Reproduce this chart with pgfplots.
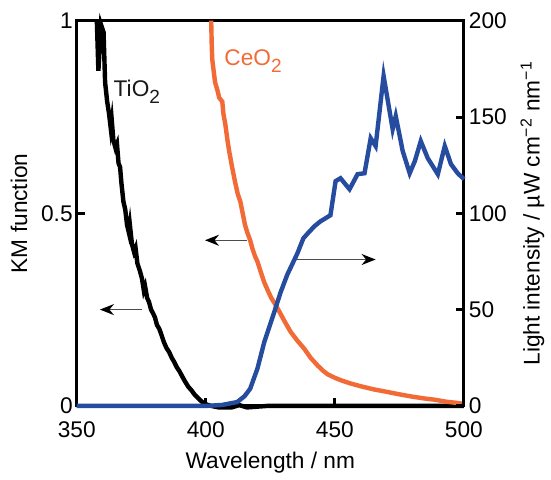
\documentclass[border=0pt]{standalone}
\usepackage{fontspec}
\setmainfont{Liberation Sans}
\usepackage{pgfplots}
\pgfplotsset{compat=1.18}
\usetikzlibrary{arrows.meta}
\definecolor{ceo}{RGB}{242,106,53}
\definecolor{lamp}{RGB}{38,76,160}
\newcommand{\fs}{\fontsize{11.3}{13}\selectfont}
\pgfplotsset{
  common/.style={
    scale only axis, width=193pt, height=192pt,
    xmin=350, xmax=500,
    tick align=inside, major tick length=4pt,
    axis line style={line width=1.5pt},
    every tick/.style={line width=1.5pt, black},
    tick label style={font=\fs},
    label style={font=\fs},
    /pgf/number format/assume math mode=true,
    clip=false,
  },
}
\newcommand{\sub}[1]{\raisebox{-0.55ex}{\fontsize{9.5}{10}\selectfont #1}}
\begin{document}
\begin{tikzpicture}
\begin{axis}[common,
  ymin=0, ymax=1, ytick={0,0.5,1},
  xtick={350,400,450,500}, xtick pos=bottom, ytick pos=left,
  xticklabel style={yshift=-4.5pt},
  yticklabel style={xshift=1.5pt},
  xlabel={Wavelength / nm}, ylabel={KM function},
  xlabel shift=0pt,
]
% TiO2
\addplot[black, line width=2.2pt] coordinates {
(357.8,1.0) (358.4,0.87) (359.4,0.99) (360.4,0.97) (361.0,0.84) (361.8,0.79)
(362.5,0.76) (363.2,0.72) (363.6,0.74) (364.2,0.69)
(365.0,0.67) (365.6,0.68) (366.2,0.63) (366.8,0.62) (367.3,0.58) (368.1,0.53)
(368.8,0.51) (369.5,0.47) (370.2,0.45) (370.6,0.47) (371.4,0.42) (372.2,0.40)
(372.8,0.41) (373.5,0.37) (374.5,0.35) (375.3,0.33) (376.0,0.30) (376.5,0.31)
(377.3,0.28) (378.0,0.27) (378.8,0.25) (379.6,0.24) (380.3,0.23) (381.1,0.21)
(382.0,0.20) (382.8,0.185) (383.8,0.165) (384.8,0.15) (385.8,0.14) (386.8,0.125)
(387.7,0.115) (388.8,0.10) (389.8,0.09) (391.0,0.075) (392.0,0.063) (393.2,0.05)
(394.5,0.04) (395.6,0.03) (396.6,0.023) (397.8,0.015) (399.0,0.008) (400.5,0.003)
(402,0) (405,-0.004) (410,-0.004) (413,0.002) (416,-0.004) (420,-0.002) (424,0.0)
(430,0) (440,0) (450,0) (460,0) (470,0) (480,0) (490,0) (500,0)
};
% CeO2
\addplot[ceo, line width=2.2pt] coordinates {
(402.1,1.0) (402.3,0.94) (402.5,0.90) (403.6,0.84) (404.5,0.82) (405.2,0.80)
(406.4,0.79) (406.8,0.76) (407.6,0.73) (408.4,0.69) (409.1,0.66) (410.2,0.62)
(411.4,0.58) (412.4,0.55) (413.4,0.53) (414.3,0.50) (415.2,0.47) (416.1,0.45)
(417.2,0.43) (418.0,0.41) (419.0,0.39) (420.0,0.375) (421.2,0.35) (422.7,0.32)
(424.0,0.30) (425.4,0.28) (426.8,0.265) (428.5,0.245) (430.5,0.22) (432.8,0.193)
(435.4,0.17) (438.2,0.148) (440.6,0.125) (443.3,0.105) (445.3,0.092) (447.2,0.082)
(450.0,0.073) (453.0,0.065) (456.2,0.058) (460.0,0.051) (465.0,0.043) (470.5,0.036)
(475.0,0.030) (480.0,0.024) (485.0,0.019) (488.7,0.016) (493.0,0.011) (497.0,0.008) (500,0.005)
};
\draw[black!70, line width=0.65pt, -{Stealth[length=7pt,width=5.5pt,black]}]
  (axis cs:375.3,0.25) -- (axis cs:359,0.25);
\draw[black!70, line width=0.65pt, -{Stealth[length=7pt,width=5.5pt,black]}]
  (axis cs:416,0.43) -- (axis cs:399.7,0.43);
\draw[black!70, line width=0.65pt, -{Stealth[length=7pt,width=5.5pt,black]}]
  (axis cs:434.7,0.38) -- (axis cs:465.8,0.38);
\node[font=\fs, text=black!90] at (axis cs:373.3,0.815) {TiO\sub{2}};
\node[font=\fs, text=ceo] at (axis cs:418.3,0.895) {CeO\sub{2}};
\end{axis}
\begin{axis}[common,
  axis x line=none, axis y line*=right,
  ymin=0, ymax=200, ytick={0,50,100,150,200},
  yticklabel style={xshift=-1pt},
  ylabel={Light intensity / µW cm\textsuperscript{−2} nm\textsuperscript{−1}},
]
\addplot[lamp, line width=2.2pt] coordinates {
(350,0) (370,0) (390,0) (400.5,0) (406.4,0.5) (412.2,2) (415,5) (417.2,8.9)
(420,19.3) (422.7,33.3) (426.6,49) (429,59) (431.6,68.2) (435.5,79.2) (437.8,87)
(440.2,90.6) (442.3,93.5) (444.4,95.8) (446.5,97.5) (448.3,99) (450.3,116.7)
(452.2,118.2) (455.7,112.5) (458.8,120.3) (461.5,120.8) (463.9,139) (465.8,134.9)
(468.9,171.3) (472.4,143.7) (473.6,150.5) (476.3,132.3) (479.0,120.8) (481.0,127.1)
(483.3,137.5) (486.0,128.6) (489.9,120.3) (492.6,134.9) (495.0,125.5) (497.5,121) (500,117.7)
};
\end{axis}
\path ([xshift=-2pt,yshift=3pt]current bounding box.north west) rectangle (current bounding box.south east);
\end{tikzpicture}
\end{document}
